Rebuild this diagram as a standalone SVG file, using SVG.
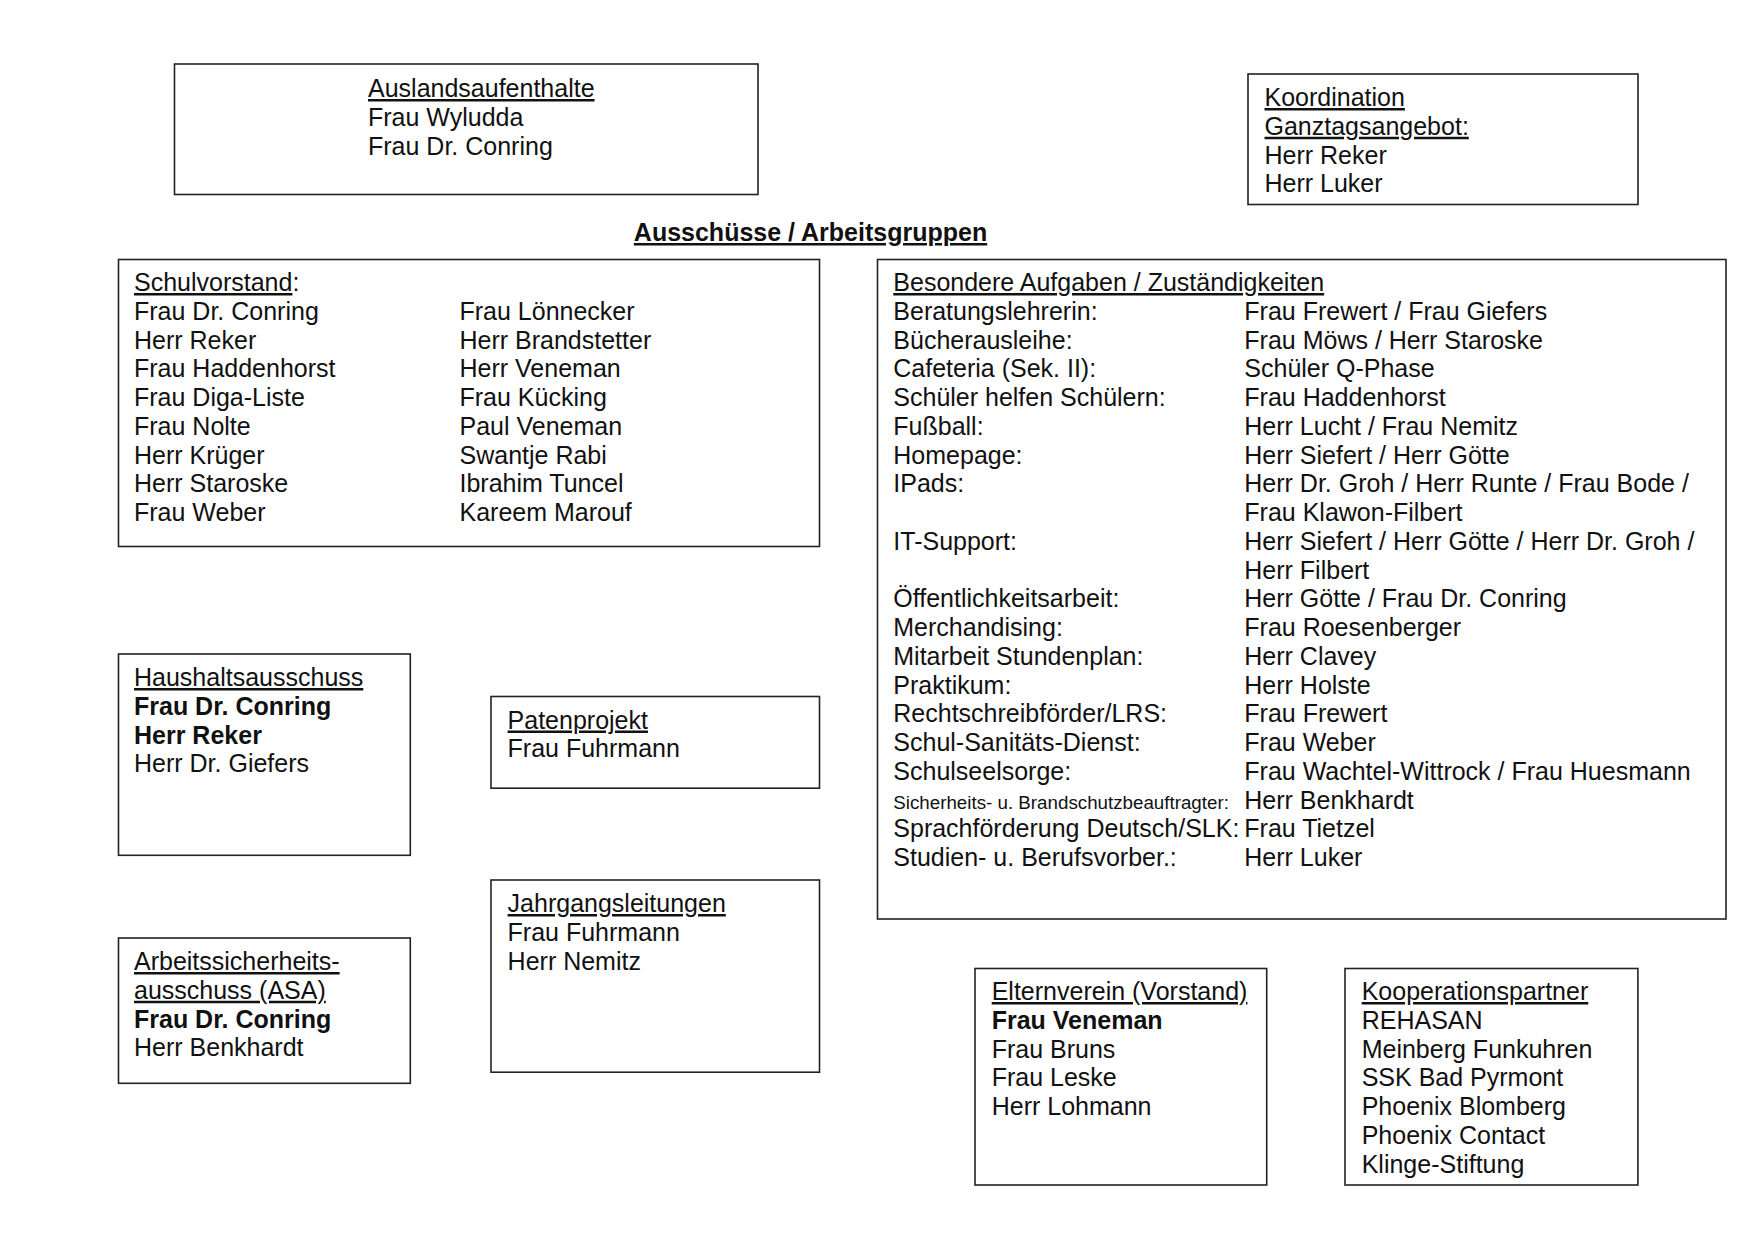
<svg xmlns="http://www.w3.org/2000/svg" width="1753" height="1240" viewBox="0 0 1753 1240">
<style>
text{font-family:"Liberation Sans",Arial,sans-serif;font-size:25px;fill:#111}
.u{text-decoration:underline}
.b{font-weight:bold}
.sm{font-size:18.75px}
.box{fill:#fff;stroke:#222;stroke-width:1.6}
</style>
<rect x="0" y="0" width="1753" height="1240" fill="#fff"/>
<g id="connectors"/>
<g id="title">
<text x="810.5" y="241" text-anchor="middle" class="b u">Ausschüsse / Arbeitsgruppen</text>
</g>
<g id="auslandsaufenthalte">
<rect class="box" x="174.5" y="64" width="583.5" height="130.5"/>
<text x="368" y="97" class="u">Auslandsaufenthalte</text>
<text x="368" y="125.75">Frau Wyludda</text>
<text x="368" y="154.5">Frau Dr. Conring</text>
</g>
<g id="koordination">
<rect class="box" x="1248" y="74" width="390" height="130.5"/>
<text x="1264.5" y="106" class="u">Koordination</text>
<text x="1264.5" y="134.75" class="u">Ganztagsangebot:</text>
<text x="1264.5" y="163.5">Herr Reker</text>
<text x="1264.5" y="192.25">Herr Luker</text>
</g>
<g id="schulvorstand">
<rect class="box" x="118.5" y="259.5" width="701" height="287"/>
<text x="134" y="291"><tspan class="u">Schulvorstand</tspan>:</text>
<text x="134" y="319.75">Frau Dr. Conring</text>
<text x="134" y="348.5">Herr Reker</text>
<text x="134" y="377.25">Frau Haddenhorst</text>
<text x="134" y="406">Frau Diga-Liste</text>
<text x="134" y="434.75">Frau Nolte</text>
<text x="134" y="463.5">Herr Krüger</text>
<text x="134" y="492.25">Herr Staroske</text>
<text x="134" y="521">Frau Weber</text>
<text x="459.5" y="319.75">Frau Lönnecker</text>
<text x="459.5" y="348.5">Herr Brandstetter</text>
<text x="459.5" y="377.25">Herr Veneman</text>
<text x="459.5" y="406">Frau Kücking</text>
<text x="459.5" y="434.75">Paul Veneman</text>
<text x="459.5" y="463.5">Swantje Rabi</text>
<text x="459.5" y="492.25">Ibrahim Tuncel</text>
<text x="459.5" y="521">Kareem Marouf</text>
</g>
<g id="besondere-aufgaben">
<rect class="box" x="877.5" y="259.5" width="848.5" height="659.5"/>
<text x="893.3" y="291" class="u">Besondere Aufgaben / Zuständigkeiten</text>
<text x="893.3" y="319.75">Beratungslehrerin:</text>
<text x="1244.3" y="319.75">Frau Frewert / Frau Giefers</text>
<text x="893.3" y="348.5">Bücherausleihe:</text>
<text x="1244.3" y="348.5">Frau Möws / Herr Staroske</text>
<text x="893.3" y="377.25">Cafeteria (Sek. II):</text>
<text x="1244.3" y="377.25">Schüler Q-Phase</text>
<text x="893.3" y="406">Schüler helfen Schülern:</text>
<text x="1244.3" y="406">Frau Haddenhorst</text>
<text x="893.3" y="434.75">Fußball:</text>
<text x="1244.3" y="434.75">Herr Lucht / Frau Nemitz</text>
<text x="893.3" y="463.5">Homepage:</text>
<text x="1244.3" y="463.5">Herr Siefert / Herr Götte</text>
<text x="893.3" y="492.25">IPads:</text>
<text x="1244.3" y="492.25">Herr Dr. Groh / Herr Runte / Frau Bode /</text>
<text x="1244.3" y="521">Frau Klawon-Filbert</text>
<text x="893.3" y="549.75">IT-Support:</text>
<text x="1244.3" y="549.75">Herr Siefert / Herr Götte / Herr Dr. Groh /</text>
<text x="1244.3" y="578.5">Herr Filbert</text>
<text x="893.3" y="607.25">Öffentlichkeitsarbeit:</text>
<text x="1244.3" y="607.25">Herr Götte / Frau Dr. Conring</text>
<text x="893.3" y="636">Merchandising:</text>
<text x="1244.3" y="636">Frau Roesenberger</text>
<text x="893.3" y="664.75">Mitarbeit Stundenplan:</text>
<text x="1244.3" y="664.75">Herr Clavey</text>
<text x="893.3" y="693.5">Praktikum:</text>
<text x="1244.3" y="693.5">Herr Holste</text>
<text x="893.3" y="722.25">Rechtschreibförder/LRS:</text>
<text x="1244.3" y="722.25">Frau Frewert</text>
<text x="893.3" y="751">Schul-Sanitäts-Dienst:</text>
<text x="1244.3" y="751">Frau Weber</text>
<text x="893.3" y="779.75">Schulseelsorge:</text>
<text x="1244.3" y="779.75">Frau Wachtel-Wittrock / Frau Huesmann</text>
<text x="893.3" y="808.5" class="sm">Sicherheits- u. Brandschutzbeauftragter:</text>
<text x="1244.3" y="808.5">Herr Benkhardt</text>
<text x="893.3" y="837.25">Sprachförderung Deutsch/SLK:</text>
<text x="1244.3" y="837.25">Frau Tietzel</text>
<text x="893.3" y="866">Studien- u. Berufsvorber.:</text>
<text x="1244.3" y="866">Herr Luker</text>
</g>
<g id="haushaltsausschuss">
<rect class="box" x="118.5" y="654" width="291.8" height="201.3"/>
<text x="134" y="686" class="u">Haushaltsausschuss</text>
<text x="134" y="714.75" class="b">Frau Dr. Conring</text>
<text x="134" y="743.5" class="b">Herr Reker</text>
<text x="134" y="772.25">Herr Dr. Giefers</text>
</g>
<g id="patenprojekt">
<rect class="box" x="491" y="696.5" width="328.5" height="91.7"/>
<text x="507.6" y="728.5" class="u">Patenprojekt</text>
<text x="507.6" y="757.25">Frau Fuhrmann</text>
</g>
<g id="jahrgangsleitungen">
<rect class="box" x="491" y="880" width="328.5" height="192.2"/>
<text x="507.6" y="912" class="u">Jahrgangsleitungen</text>
<text x="507.6" y="940.75">Frau Fuhrmann</text>
<text x="507.6" y="969.5">Herr Nemitz</text>
</g>
<g id="arbeitssicherheitsausschuss">
<rect class="box" x="118.5" y="938" width="291.8" height="145.3"/>
<text x="134" y="970" class="u">Arbeitssicherheits-</text>
<text x="134" y="998.75" class="u">ausschuss (ASA)</text>
<text x="134" y="1027.5" class="b">Frau Dr. Conring</text>
<text x="134" y="1056.25">Herr Benkhardt</text>
</g>
<g id="elternverein">
<rect class="box" x="975" y="968.5" width="291.7" height="216.5"/>
<text x="991.7" y="1000" class="u">Elternverein (Vorstand)</text>
<text x="991.7" y="1028.75" class="b">Frau Veneman</text>
<text x="991.7" y="1057.5">Frau Bruns</text>
<text x="991.7" y="1086.25">Frau Leske</text>
<text x="991.7" y="1115">Herr Lohmann</text>
</g>
<g id="kooperationspartner">
<rect class="box" x="1345" y="968.5" width="292.9" height="216.5"/>
<text x="1361.7" y="1000" class="u">Kooperationspartner</text>
<text x="1361.7" y="1028.75">REHASAN</text>
<text x="1361.7" y="1057.5">Meinberg Funkuhren</text>
<text x="1361.7" y="1086.25">SSK Bad Pyrmont</text>
<text x="1361.7" y="1115">Phoenix Blomberg</text>
<text x="1361.7" y="1143.75">Phoenix Contact</text>
<text x="1361.7" y="1172.5">Klinge-Stiftung</text>
</g>
</svg>
